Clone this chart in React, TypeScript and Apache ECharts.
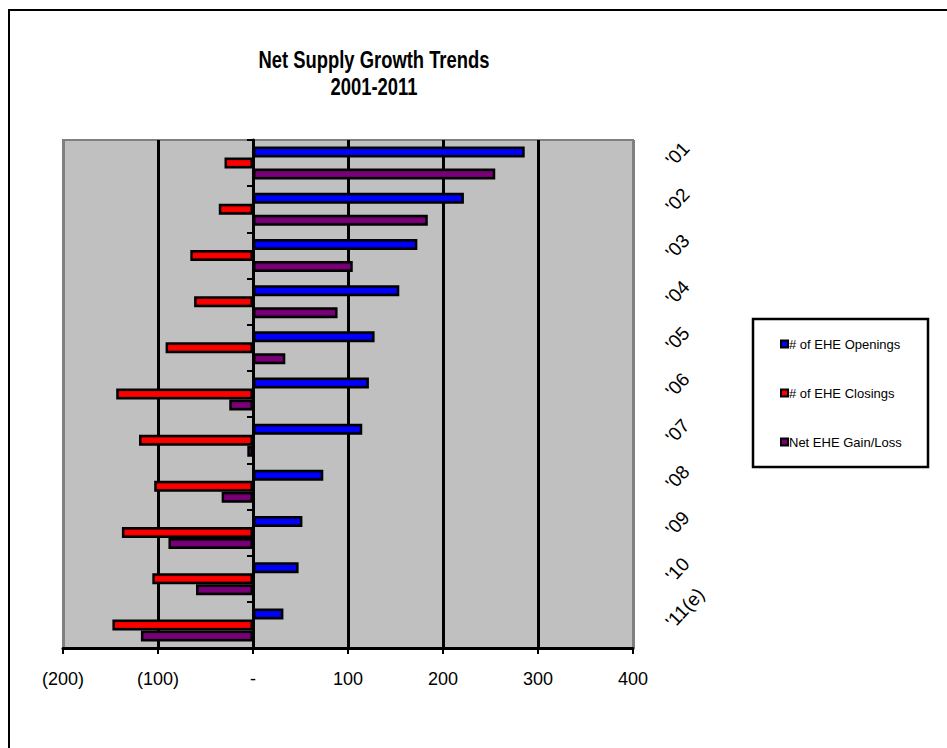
import React, { useEffect, useRef } from "react";
import * as echarts from "echarts";

const categories = ["'01", "'02", "'03", "'04", "'05", "'06", "'07", "'08", "'09", "'10", "'11(e)"];
const openings = [286, 222, 173, 154, 128, 122, 115, 74, 52, 48, 32];
const closings = [-30, -36, -66, -62, -92, -144, -120, -104, -138, -106, -148];
const netGainLoss = [255, 184, 105, 89, 34, -25, -6, -33, -89, -60, -118];
const xTicks = [-200, -100, 0, 100, 200, 300, 400];
const seriesNames = ["# of EHE Openings", "# of EHE Closings", "Net EHE Gain/Loss"];

const FONT = "Arial, 'Liberation Sans', sans-serif";

function grad(edge: string, mid: string) {
  return new echarts.graphic.LinearGradient(0, 0, 0, 1, [
    { offset: 0, color: edge },
    { offset: 0.35, color: mid },
    { offset: 0.65, color: mid },
    { offset: 1, color: edge },
  ]);
}

export default function App() {
  const ref = useRef<HTMLDivElement>(null);
  useEffect(() => {
    if (!ref.current) return;
    const chart = echarts.init(ref.current, undefined, { renderer: "svg" });
    const barBase = {
      type: "bar" as const,
      barWidth: 11,
      barGap: "0%",
      barCategoryGap: "28%",
      yAxisIndex: 0,
      xAxisIndex: 0,
    };
    chart.setOption({
      animation: false,
      backgroundColor: "#ffffff",
      textStyle: { fontFamily: FONT },
      graphic: [
        {
          type: "rect",
          shape: { x: 9, y: 10, width: 1000, height: 1000 },
          style: { fill: "none", stroke: "#000", lineWidth: 2 },
          silent: true,
        },
        {
          type: "text",
          x: 374,
          y: 73,
          scaleX: 0.8,
          style: {
            text: "Net Supply Growth Trends\n2001-2011",
            font: "bold 23px Arial, 'Liberation Sans', sans-serif",
            fill: "#000",
            textAlign: "center",
            textVerticalAlign: "middle",
            lineHeight: 27,
          },
        },
        {
          type: "rect",
          shape: { x: 753, y: 319, width: 175, height: 148 },
          style: { fill: "#fff", stroke: "#000", lineWidth: 2.5 },
          z: -1,
          silent: true,
        },
      ],
      legend: {
        orient: "vertical",
        left: 775,
        top: 332,
        itemWidth: 7,
        itemHeight: 7,
        itemGap: 35,
        icon: "rect",
        data: seriesNames,
        textStyle: {
          fontSize: 13,
          color: "#000",
          fontFamily: FONT,
          lineHeight: 14,
          padding: [0, 0, 0, -4],
        },
        z: 10,
      },
      grid: {
        left: 63,
        right: 947 - 633,
        top: 140,
        bottom: 748 - 648,
        show: true,
        backgroundColor: "#C0C0C0",
        borderColor: "#808080",
        borderWidth: 2,
        containLabel: false,
      },
      xAxis: {
        type: "value",
        min: -200,
        max: 400,
        interval: 100,
        position: "bottom",
        axisLine: { show: true, onZero: false, lineStyle: { color: "#000", width: 3 } },
        axisTick: { show: true, length: 6, lineStyle: { color: "#000", width: 2 } },
        axisLabel: {
          fontSize: 18,
          color: "#000",
          margin: 22,
          fontFamily: FONT,
          formatter: (v: number) => (v < 0 ? `(${-v})` : v === 0 ? "-" : String(v)),
        },
        splitLine: {
          show: true,
          lineStyle: {
            color: xTicks.map((t) => (t === -200 || t === 400 ? "#808080" : "#000")),
            width: 3,
          },
        },
      },
      yAxis: [
        {
          type: "category",
          data: categories,
          inverse: true,
          position: "left",
          axisLine: { show: true, onZero: true, lineStyle: { color: "#000", width: 3 } },
          axisTick: { show: true, length: 6, interval: 0, lineStyle: { color: "#000", width: 2 } },
          axisLabel: { show: false },
          splitLine: { show: false },
        },
        {
          type: "category",
          data: categories,
          inverse: true,
          position: "right",
          axisLine: { show: false, onZero: false },
          axisTick: { show: false },
          axisLabel: {
            show: true,
            rotate: 47,
            margin: 36,
            fontSize: 19,
            color: "#000",
            fontFamily: FONT,
            interval: 0,
          },
          splitLine: { show: false },
        },
      ],
      series: [
        {
          ...barBase,
          name: seriesNames[0],
          data: openings,
          itemStyle: { color: grad("#0000B8", "#0000FF"), borderColor: "#000", borderWidth: 2.5 },
        },
        {
          ...barBase,
          name: seriesNames[1],
          data: closings,
          itemStyle: { color: grad("#C00000", "#FF0000"), borderColor: "#000", borderWidth: 2.5 },
        },
        {
          ...barBase,
          name: seriesNames[2],
          data: netGainLoss,
          itemStyle: { color: grad("#500050", "#7A007A"), borderColor: "#000", borderWidth: 2.5 },
        },
      ],
    });
    return () => chart.dispose();
  }, []);
  return (
    <div
      ref={ref}
      style={{ position: "absolute", left: 0, top: 0, width: 947, height: 748 }}
    />
  );
}
